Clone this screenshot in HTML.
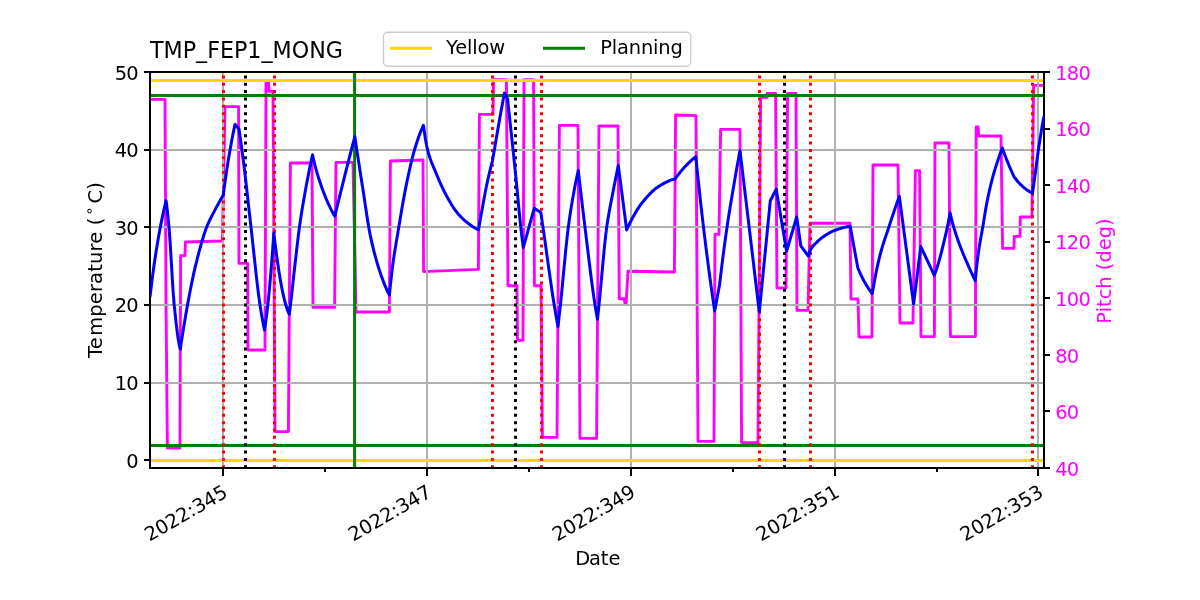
<!DOCTYPE html>
<html lang="en"><head><meta charset="utf-8"><title>TMP_FEP1_MONG</title>
<style>
html,body{margin:0;padding:0;background:#fff;}
body{width:1200px;height:600px;overflow:hidden;}
svg{display:block;}
text{font-family:"DejaVu Sans","Liberation Sans",sans-serif;fill:#000;}
.tk{font-size:19.44px;letter-spacing:-0.75px;}
.lb{font-size:19.44px;}
.lg{font-size:19.44px;letter-spacing:-0.15px;}
.tt{font-size:22.2px;}
.m{fill:#ff00ff;}
</style></head><body>
<svg width="1200" height="600" viewBox="0 0 1200 600">
<rect width="1200" height="600" fill="#fff"/>
<defs><clipPath id="ax"><rect x="150" y="72" width="894" height="396"/></clipPath></defs>
<g clip-path="url(#ax)" fill="none">
<polyline points="150,99.40 165,99.40 166,300 167.40,448 180,448 180.60,255.60 185,255.60 185.40,242 222.40,241 225,106.60 238.60,106.60 239,263.40 247.60,263.40 248,350 265,350 266,82.40 268.50,82.40 269,91.40 273,91.40 275,431.60 288.40,431.60 290.40,163 312,163 313,307.40 334.60,307.40 336,162.40 353,162.40 356,312 389.40,312 390.40,161 423,160 423.60,271.60 478.40,269.40 479.40,114.40 493,114.40 493.50,79.80 506.40,79.80 508,285.80 517,285.80 517.50,340.40 523,340.40 524,79.80 533.60,79.80 534.40,285.80 541,285.80 542.40,437.40 557,437.40 559.40,125.40 578,125.40 580,438.40 596.60,438.40 599,126 618,126 619.30,298.70 624.40,298.70 624.80,303 626.20,303 628,271.20 674.40,272 675.60,115 696,115.60 698,441.40 714,441.40 715,234.40 719,234.40 720.60,129.40 740,129.40 741.60,442.60 758,442.60 760.60,97.40 767,97.40 767.30,93.40 775.60,93.40 777,288 786,288 787.60,93.40 796,93.40 797,310.40 808,310.40 810,223.30 850,223.30 851,299 858,299 859,337 872,337 873,165 898,165 900,323 913,323 915.40,170.60 919.60,170.60 921,336.60 934.40,336.60 935,143 949,143 950.40,336.60 975.40,336.60 976.20,127 978.20,127 978.60,136 1001,136 1002.60,248.40 1014,248.40 1014.30,236.40 1020,236.40 1020.30,217 1032,217 1033.60,85.40 1044,85.40" stroke="#ff00ff" stroke-width="2.9" stroke-linejoin="round"/>
<line x1="223" y1="72" x2="223" y2="468" stroke="#b0b0b0" stroke-width="2"/>
<line x1="427" y1="72" x2="427" y2="468" stroke="#b0b0b0" stroke-width="2"/>
<line x1="631" y1="72" x2="631" y2="468" stroke="#b0b0b0" stroke-width="2"/>
<line x1="835" y1="72" x2="835" y2="468" stroke="#b0b0b0" stroke-width="2"/>
<line x1="1038" y1="72" x2="1038" y2="468" stroke="#b0b0b0" stroke-width="2"/>
<line x1="150" y1="460" x2="1044" y2="460" stroke="#b0b0b0" stroke-width="2"/>
<line x1="150" y1="383" x2="1044" y2="383" stroke="#b0b0b0" stroke-width="2"/>
<line x1="150" y1="305" x2="1044" y2="305" stroke="#b0b0b0" stroke-width="2"/>
<line x1="150" y1="227" x2="1044" y2="227" stroke="#b0b0b0" stroke-width="2"/>
<line x1="150" y1="150" x2="1044" y2="150" stroke="#b0b0b0" stroke-width="2"/>
<line x1="150" y1="72" x2="1044" y2="72" stroke="#b0b0b0" stroke-width="2"/>
<line x1="150" y1="80.5" x2="1044" y2="80.5" stroke="#ffd700" stroke-width="3"/>
<line x1="150" y1="460.5" x2="1044" y2="460.5" stroke="#ffd700" stroke-width="3"/>
<line x1="150" y1="95.5" x2="1044" y2="95.5" stroke="#008000" stroke-width="3"/>
<line x1="150" y1="445.5" x2="1044" y2="445.5" stroke="#008000" stroke-width="3"/>
<line x1="354.6" y1="72" x2="354.6" y2="468" stroke="#008000" stroke-width="3"/>
<line x1="223.5" y1="468" x2="223.5" y2="72" stroke="#ff0000" stroke-width="3" stroke-dasharray="3 4.357" stroke-dashoffset="0.3"/>
<line x1="274.5" y1="468" x2="274.5" y2="72" stroke="#ff0000" stroke-width="3" stroke-dasharray="3 4.357" stroke-dashoffset="0.3"/>
<line x1="492.5" y1="468" x2="492.5" y2="72" stroke="#ff0000" stroke-width="3" stroke-dasharray="3 4.357" stroke-dashoffset="0.3"/>
<line x1="541.5" y1="468" x2="541.5" y2="72" stroke="#ff0000" stroke-width="3" stroke-dasharray="3 4.357" stroke-dashoffset="0.3"/>
<line x1="759.5" y1="468" x2="759.5" y2="72" stroke="#ff0000" stroke-width="3" stroke-dasharray="3 4.357" stroke-dashoffset="0.3"/>
<line x1="810.5" y1="468" x2="810.5" y2="72" stroke="#ff0000" stroke-width="3" stroke-dasharray="3 4.357" stroke-dashoffset="0.3"/>
<line x1="1032.5" y1="468" x2="1032.5" y2="72" stroke="#ff0000" stroke-width="3" stroke-dasharray="3 4.357" stroke-dashoffset="0.3"/>
<line x1="245.5" y1="468" x2="245.5" y2="72" stroke="#000" stroke-width="3" stroke-dasharray="3 4.357" stroke-dashoffset="0.3"/>
<line x1="515.5" y1="468" x2="515.5" y2="72" stroke="#000" stroke-width="3" stroke-dasharray="3 4.357" stroke-dashoffset="0.3"/>
<line x1="784.5" y1="468" x2="784.5" y2="72" stroke="#000" stroke-width="3" stroke-dasharray="3 4.357" stroke-dashoffset="0.3"/>
</g>
<g stroke="#000" stroke-width="2" fill="none">
<rect x="150" y="72" width="894" height="396"/>
<line x1="223" y1="468" x2="223" y2="476"/>
<line x1="427" y1="468" x2="427" y2="476"/>
<line x1="631" y1="468" x2="631" y2="476"/>
<line x1="835" y1="468" x2="835" y2="476"/>
<line x1="1038" y1="468" x2="1038" y2="476"/>
<line x1="325" y1="468" x2="325" y2="472"/>
<line x1="529" y1="468" x2="529" y2="472"/>
<line x1="733" y1="468" x2="733" y2="472"/>
<line x1="937" y1="468" x2="937" y2="472"/>
<line x1="144" y1="460" x2="150" y2="460"/>
<line x1="144" y1="383" x2="150" y2="383"/>
<line x1="144" y1="305" x2="150" y2="305"/>
<line x1="144" y1="227" x2="150" y2="227"/>
<line x1="144" y1="150" x2="150" y2="150"/>
<line x1="144" y1="72" x2="150" y2="72"/>
<line x1="1044" y1="468" x2="1050" y2="468"/>
<line x1="1044" y1="411" x2="1050" y2="411"/>
<line x1="1044" y1="355" x2="1050" y2="355"/>
<line x1="1044" y1="298" x2="1050" y2="298"/>
<line x1="1044" y1="242" x2="1050" y2="242"/>
<line x1="1044" y1="185" x2="1050" y2="185"/>
<line x1="1044" y1="129" x2="1050" y2="129"/>
<line x1="1044" y1="72" x2="1050" y2="72"/>
</g>
<g clip-path="url(#ax)" fill="none">
<polyline points="150,297 151.01,288.53 152.01,280.38 153.02,272.61 154.03,265.29 155.03,258.43 156.04,251.89 157.04,245.64 158.05,239.67 159.06,233.97 160.06,228.54 161.07,223.35 162.07,218.36 163.08,213.57 164.09,209 165.09,204.67 166.10,200.60 167.11,208.61 168.13,218.08 169.14,228.94 170.16,242.95 171.17,259.64 172.19,276.94 173.20,292.79 174.21,305.14 175.23,314.90 176.24,324.05 177.26,332.31 178.27,339.43 179.29,345.15 180.30,349.20 181.32,342.40 182.34,335.76 183.36,329.29 184.39,323 185.41,316.89 186.43,310.98 187.45,305.27 188.47,299.72 189.49,294.28 190.51,288.98 191.54,283.84 192.56,278.89 193.58,274.16 194.60,269.68 195.62,265.43 196.64,261.27 197.66,257.19 198.69,253.21 199.71,249.35 200.73,245.61 201.75,242.01 202.77,238.57 203.79,235.30 204.81,232.21 205.84,229.32 206.86,226.65 207.88,224.18 208.90,221.90 209.92,219.75 210.94,217.72 211.96,215.75 212.99,213.81 214.01,211.86 215.03,209.90 216.05,207.96 217.07,206.05 218.09,204.18 219.11,202.33 220.14,200.52 221.16,198.74 222.18,197 223.20,195.30 224.27,187.37 225.35,179.71 226.42,172.35 227.49,165.31 228.56,158.62 229.64,152.26 230.71,146.15 231.78,140.29 232.85,134.69 233.93,129.39 235,124.40 239,129 240.02,136.09 241.04,143.40 242.06,150.96 243.08,158.76 244.10,166.80 245.12,175.21 246.14,183.97 247.16,192.98 248.18,202.14 249.20,211.33 250.22,220.45 251.24,229.40 252.26,238.55 253.28,247.94 254.30,257.43 255.32,266.86 256.34,276.08 257.36,284.92 258.38,293.24 259.40,300.88 260.42,307.73 261.44,314.02 262.46,319.82 263.48,325.15 264.50,330 265.53,323.27 266.57,315.53 267.60,306.80 268.63,297.08 269.67,286.32 270.70,274.52 271.73,261.69 272.77,247.85 273.80,233 274.83,241.64 275.87,249.82 276.90,257.53 277.93,264.79 278.97,271.58 280,277.91 281.03,283.79 282.07,289.21 283.10,294.17 284.13,298.68 285.17,302.74 286.20,306.34 287.23,309.46 288.27,312.11 289.30,314.30 290.31,306.11 291.32,297.54 292.33,288.58 293.33,279.40 294.34,270.24 295.35,261.28 296.36,252.46 297.37,243.62 298.38,235.13 299.39,227.39 300.40,220.41 301.40,213.85 302.41,207.63 303.42,201.70 304.43,195.95 305.44,190.34 306.45,184.81 307.46,179.42 308.47,174.17 309.47,169.08 310.48,164.14 311.49,159.38 312.50,154.80 313.51,159.24 314.53,163.48 315.54,167.47 316.55,171.19 317.57,174.66 318.58,177.94 319.60,181.05 320.61,184.03 321.62,186.91 322.64,189.70 323.65,192.41 324.66,195.04 325.68,197.58 326.69,200.01 327.70,202.34 328.72,204.57 329.73,206.73 330.75,208.81 331.76,210.82 332.77,212.74 333.79,214.57 334.80,216.30 335.80,212.15 336.80,208.01 337.80,203.89 338.80,199.79 339.80,195.71 340.80,191.65 341.80,187.61 342.80,183.59 343.80,179.59 344.80,175.61 345.80,171.65 346.80,167.71 347.80,163.78 348.80,159.87 349.80,155.98 350.80,152.11 351.80,148.25 352.80,144.41 353.80,140.60 354.80,136.80 355.82,143.47 356.84,150.12 357.85,156.74 358.87,163.34 359.89,169.91 360.91,176.45 361.92,182.97 362.94,189.46 363.96,196.11 364.98,202.96 365.99,209.84 367.01,216.59 368.03,223.03 369.05,229.01 370.06,234.35 371.08,239.12 372.10,243.64 373.12,247.94 374.14,252.03 375.15,255.91 376.17,259.60 377.19,263.12 378.21,266.46 379.22,269.66 380.24,272.71 381.26,275.66 382.28,278.52 383.29,281.27 384.31,283.90 385.33,286.41 386.35,288.78 387.36,291.01 388.38,293.09 389.40,295 390.40,285.19 391.40,276.02 392.40,267.61 393.40,260.11 394.40,253.41 395.40,247.23 396.40,241.32 397.40,235.40 398.40,229.40 399.40,223.40 400.40,217.44 401.40,211.55 402.40,205.77 403.40,200.12 404.40,194.65 405.40,189.38 406.40,184.36 407.40,179.56 408.40,174.86 409.40,170.29 410.40,165.88 411.40,161.64 412.40,157.61 413.40,153.81 414.40,150.27 415.40,146.96 416.40,143.75 417.40,140.66 418.40,137.71 419.40,134.89 420.40,132.25 421.40,129.77 422.40,127.48 423.40,125.40 424.40,132.27 425.40,138.76 426.41,144.53 427.41,149.23 428.41,152.97 429.41,156.29 430.41,159.27 431.41,161.97 432.42,164.48 433.42,166.87 434.42,169.21 435.42,171.58 436.42,174.02 437.43,176.42 438.43,178.79 439.43,181.10 440.43,183.36 441.43,185.57 442.43,187.72 443.44,189.81 444.44,191.83 445.44,193.78 446.44,195.66 447.44,197.50 448.45,199.31 449.45,201.07 450.45,202.80 451.45,204.47 452.45,206.08 453.45,207.63 454.46,209.10 455.46,210.50 456.46,211.80 457.46,213.03 458.46,214.20 459.47,215.33 460.47,216.41 461.47,217.45 462.47,218.45 463.47,219.40 464.47,220.31 465.48,221.18 466.48,222.01 467.48,222.80 468.48,223.57 469.48,224.31 470.49,225.04 471.49,225.74 472.49,226.42 473.49,227.06 474.49,227.68 475.49,228.27 476.50,228.81 477.50,229.33 478.50,229.80 479.50,224.04 480.50,218.35 481.50,212.76 482.50,207.24 483.50,201.70 484.50,196.22 485.50,190.93 486.50,185.95 487.50,181.29 488.50,176.80 489.50,172.48 490.50,168.36 491.50,164.46 492.50,160.80 493.58,154.31 494.66,147.89 495.75,141.53 496.83,135.24 497.91,129.02 498.99,122.87 500.07,116.77 501.15,110.73 502.24,104.76 503.32,98.85 504.40,93 507.50,98.50 508.55,108.09 509.61,117.78 510.66,127.57 511.71,137.44 512.77,147.39 513.82,157.41 514.87,167.55 515.93,177.83 516.98,188.37 518.03,199.44 519.09,210.55 520.14,221.16 521.19,230.75 522.25,239.47 523.30,247.50 534.20,208.30 540.80,212.50 541.81,219.28 542.82,226.10 543.84,233.05 544.85,240.14 545.86,247.35 546.87,254.61 547.88,261.90 548.89,269.15 549.91,276.34 550.92,283.41 551.93,290.31 552.94,297.02 553.95,303.47 554.96,309.63 555.98,315.51 556.99,321.18 558,326.70 559.01,317.66 560.03,308.44 561.04,298.81 562.06,288.57 563.08,277.94 564.09,267.20 565.11,256.62 566.12,246.45 567.13,236.98 568.15,228.46 569.16,220.91 570.18,213.93 571.19,207.43 572.21,201.32 573.22,195.53 574.24,189.98 575.25,184.69 576.27,179.68 577.28,174.97 578.30,170.60 579.31,179.40 580.32,188.12 581.33,196.76 582.34,205.31 583.35,213.76 584.36,222.10 585.37,230.34 586.38,238.65 587.39,247 588.41,255.34 589.42,263.60 590.43,271.72 591.44,279.63 592.45,287.28 593.46,294.61 594.47,301.53 595.48,307.98 596.49,313.83 597.50,319.30 598.54,309.44 599.58,299.20 600.62,288.21 601.66,276.78 602.70,265.28 603.74,254.10 604.78,243.60 605.82,234.17 606.86,226.17 607.90,219.31 608.94,213.15 609.98,207.49 611.02,202.12 612.06,196.85 613.10,191.47 614.14,186.07 615.18,180.78 616.22,175.60 617.26,170.54 618.30,165.60 626.70,230 627.71,227.74 628.71,225.54 629.72,223.40 630.73,221.34 631.73,219.36 632.74,217.48 633.74,215.67 634.75,213.90 635.76,212.18 636.76,210.51 637.77,208.89 638.78,207.34 639.78,205.87 640.79,204.48 641.79,203.18 642.80,201.93 643.81,200.70 644.81,199.49 645.82,198.31 646.83,197.15 647.83,196.03 648.84,194.93 649.84,193.87 650.85,192.85 651.86,191.87 652.86,190.93 653.87,190.03 654.88,189.19 655.88,188.39 656.89,187.65 657.89,186.96 658.90,186.32 659.91,185.70 660.91,185.09 661.92,184.49 662.92,183.91 663.93,183.34 664.94,182.80 665.94,182.28 666.95,181.79 667.96,181.32 668.96,180.88 669.97,180.48 670.98,180.10 671.98,179.77 672.99,179.47 673.99,179.21 675,179 676.04,177.57 677.08,176.18 678.12,174.81 679.16,173.48 680.20,172.18 681.24,170.92 682.28,169.69 683.32,168.49 684.36,167.34 685.40,166.22 686.44,165.14 687.48,164.08 688.52,163.05 689.56,162.05 690.60,161.08 691.64,160.14 692.68,159.23 693.72,158.35 694.76,157.51 695.80,156.70 696.85,166.98 697.90,177.10 698.95,187.02 700,196.74 701.05,206.22 702.10,215.44 703.15,224.38 704.20,233.07 705.25,241.61 706.30,250.02 707.35,258.27 708.40,266.36 709.45,274.28 710.50,282.01 711.55,289.55 712.60,296.89 713.65,304.01 714.70,310.90 719.60,284.50 720.62,275.88 721.64,267.49 722.66,259.32 723.68,251.40 724.70,243.71 725.72,236.28 726.74,229.09 727.76,222.18 728.78,215.57 729.80,209.19 730.82,202.99 731.84,196.91 732.86,190.89 733.88,184.89 734.90,178.96 735.92,173.11 736.94,167.35 737.96,161.67 738.98,156.09 740,150.60 759.30,312 770.30,200.80 776.20,189.20 786.60,251 796.70,217 800.80,245.80 808.40,256.20 809.42,252.76 810.44,249.93 811.46,248.10 812.48,246.68 813.50,245.49 814.52,244.45 815.54,243.46 816.56,242.44 817.58,241.45 818.60,240.49 819.61,239.58 820.63,238.71 821.65,237.90 822.67,237.14 823.69,236.43 824.71,235.75 825.73,235.09 826.75,234.45 827.77,233.83 828.79,233.23 829.81,232.67 830.83,232.13 831.85,231.63 832.87,231.16 833.89,230.73 834.91,230.33 835.93,229.97 836.95,229.61 837.97,229.26 838.99,228.92 840,228.59 841.02,228.27 842.04,227.97 843.06,227.68 844.08,227.42 845.10,227.17 846.12,226.94 847.14,226.74 848.16,226.57 849.18,226.42 850.20,226.30 857.80,267.80 858.83,270.22 859.86,272.56 860.89,274.82 861.91,276.98 862.94,279.03 863.97,280.95 865,282.77 866.03,284.55 867.06,286.25 868.09,287.89 869.11,289.45 870.14,290.93 871.17,292.31 872.20,293.60 873.20,287.92 874.21,282.41 875.21,277.10 876.21,272.02 877.22,267.17 878.22,262.59 879.23,258.29 880.23,254.30 881.23,250.61 882.24,247.16 883.24,243.90 884.24,240.80 885.25,237.80 886.25,234.86 887.26,231.92 888.26,228.94 889.26,225.88 890.27,222.83 891.27,219.79 892.27,216.77 893.28,213.77 894.28,210.79 895.29,207.83 896.29,204.89 897.29,201.97 898.30,199.07 899.30,196.20 913.60,304 920.80,246.60 934.30,275.30 935.35,272.56 936.41,269.55 937.46,266.30 938.51,262.82 939.57,259.12 940.62,255.24 941.67,251.18 942.73,246.96 943.78,242.61 944.83,238.13 945.89,233.56 946.94,228.91 947.99,224.02 949.05,218.54 950.10,212.80 951.10,217.31 952.11,221.52 953.11,225.17 954.12,228.58 955.12,231.81 956.12,234.89 957.13,237.83 958.13,240.66 959.14,243.40 960.14,246.09 961.14,248.73 962.15,251.32 963.15,253.81 964.16,256.22 965.16,258.56 966.16,260.85 967.17,263.12 968.17,265.39 969.18,267.64 970.18,269.87 971.18,272.07 972.19,274.25 973.19,276.40 974.20,278.51 975.20,280.60 976.20,270.96 977.21,262.06 978.21,254.09 979.21,247.22 980.22,241.19 981.22,235.59 982.23,230.03 983.23,224.14 984.23,217.98 985.24,211.86 986.24,206.03 987.24,200.78 988.25,195.91 989.25,191.31 990.26,186.94 991.26,182.81 992.26,178.89 993.27,175.20 994.27,171.72 995.27,168.42 996.28,165.25 997.28,162.16 998.29,159.14 999.29,156.21 1000.29,153.37 1001.30,150.64 1002.30,148 1003.37,150.98 1004.45,153.89 1005.52,156.73 1006.59,159.50 1007.66,162.18 1008.74,164.78 1009.81,167.32 1010.88,169.80 1011.95,172.20 1013.03,174.54 1014.10,176.80 1015.12,178.15 1016.14,179.46 1017.17,180.73 1018.19,181.94 1019.21,183.09 1020.23,184.18 1021.26,185.20 1022.28,186.15 1023.30,187.02 1024.32,187.86 1025.34,188.66 1026.37,189.44 1027.39,190.17 1028.41,190.86 1029.43,191.51 1030.46,192.10 1031.48,192.63 1032.50,193.10 1033.55,185.81 1034.59,178.34 1035.64,170.46 1036.68,162.36 1037.73,154.51 1038.77,147.31 1039.82,140.46 1040.86,133.88 1041.91,127.58 1042.95,121.61 1044,116" stroke="#0000ff" stroke-width="3" stroke-linejoin="round"/>
</g>
<text class="tk" x="137.9" y="468.0" text-anchor="end">0</text>
<text class="tk" x="137.9" y="390.2" text-anchor="end">10</text>
<text class="tk" x="137.9" y="312.2" text-anchor="end">20</text>
<text class="tk" x="137.9" y="235.1" text-anchor="end">30</text>
<text class="tk" x="137.9" y="157.2" text-anchor="end">40</text>
<text class="tk" x="137.9" y="80.0" text-anchor="end">50</text>
<text class="tk m" x="1055.2" y="476.1">40</text>
<text class="tk m" x="1055.2" y="419.0">60</text>
<text class="tk m" x="1055.2" y="362.8">80</text>
<text class="tk m" x="1055.2" y="305.6">100</text>
<text class="tk m" x="1055.2" y="249.2">120</text>
<text class="tk m" x="1055.2" y="192.6">140</text>
<text class="tk m" x="1055.2" y="136.2">160</text>
<text class="tk m" x="1055.2" y="80.0">180</text>
<text class="tk" style="letter-spacing:-0.18px" text-anchor="end" transform="translate(228.8,496) rotate(-30)">2022:345</text>
<text class="tk" style="letter-spacing:-0.18px" text-anchor="end" transform="translate(432.7,496) rotate(-30)">2022:347</text>
<text class="tk" style="letter-spacing:-0.18px" text-anchor="end" transform="translate(636.6,496) rotate(-30)">2022:349</text>
<text class="tk" style="letter-spacing:-0.18px" text-anchor="end" transform="translate(840.5,496) rotate(-30)">2022:351</text>
<text class="tk" style="letter-spacing:-0.18px" text-anchor="end" transform="translate(1044.5,496) rotate(-30)">2022:353</text>
<text class="lb" x="575.15" y="565" dx="0 -1.2">Date</text>
<text class="lb" transform="translate(102.2,358) rotate(-90)" letter-spacing="0.16" dx="0 0 1.4">Temperature (<tspan dx="2.25" dy="-7.9" font-size="14.2px">∘</tspan><tspan dx="2.9" dy="7.9">C)</tspan></text>
<text class="lb m" text-anchor="middle" transform="translate(1111,271) rotate(-90)">Pitch (deg)</text>
<text class="tt" x="150" y="58">TMP_FEP1_MONG</text>
<rect x="383.5" y="32.3" width="307.2" height="34" rx="4" ry="4" fill="#fff" stroke="#cccccc" stroke-width="1.4"/>
<line x1="390" y1="48.3" x2="432" y2="48.3" stroke="#ffd700" stroke-width="2.9"/>
<text class="lg" x="446" y="53.8">Yellow</text>
<line x1="543" y1="48.3" x2="585" y2="48.3" stroke="#008000" stroke-width="2.9"/>
<text class="lg" x="600.2" y="53.8">Planning</text>
</svg></body></html>
